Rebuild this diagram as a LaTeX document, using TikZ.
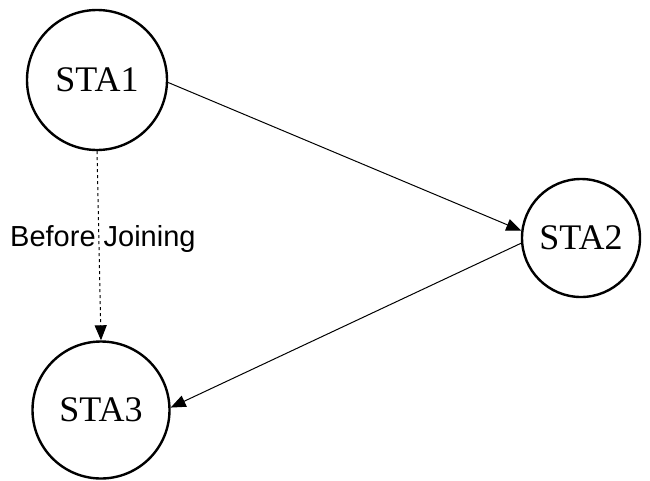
\documentclass[tikz,border=0pt]{standalone}
\usepackage{fontspec}
\setmainfont{Liberation Serif}
\newfontfamily\labelfont{Liberation Sans}
\usetikzlibrary{arrows.meta}
\begin{document}
\begin{tikzpicture}[x=1pt,y=-1pt,
  sta/.style={circle, draw, line width=2.4pt, minimum size=140pt, inner sep=0pt,
              font=\fontsize{36}{40}\selectfont},
  conn/.style={line width=1pt, -{Triangle[length=15pt,width=12pt]}},
  dotconn/.style={conn, dash pattern=on 3pt off 3pt},
  lbl/.style={anchor=base west, inner sep=0pt, font=\labelfont\fontsize{29}{32}\selectfont}
]
\useasboundingbox (0,0) rectangle (650,480);
\node[sta] (sta1) at (97,80) {STA1};
\node[sta, minimum size=118pt] (sta2) at (581,238) {STA2};
\node[sta, minimum size=137pt] (sta3) at (101,410) {STA3};
\draw[conn] (sta1.-2) -- (sta2.173);
\draw[conn] (sta2.185) -- (sta3.2);
\draw[dotconn] (sta1.south) -- (sta3.north);
\node[lbl] (label) at (10,246) {Before Joining};
\end{tikzpicture}
\end{document}
